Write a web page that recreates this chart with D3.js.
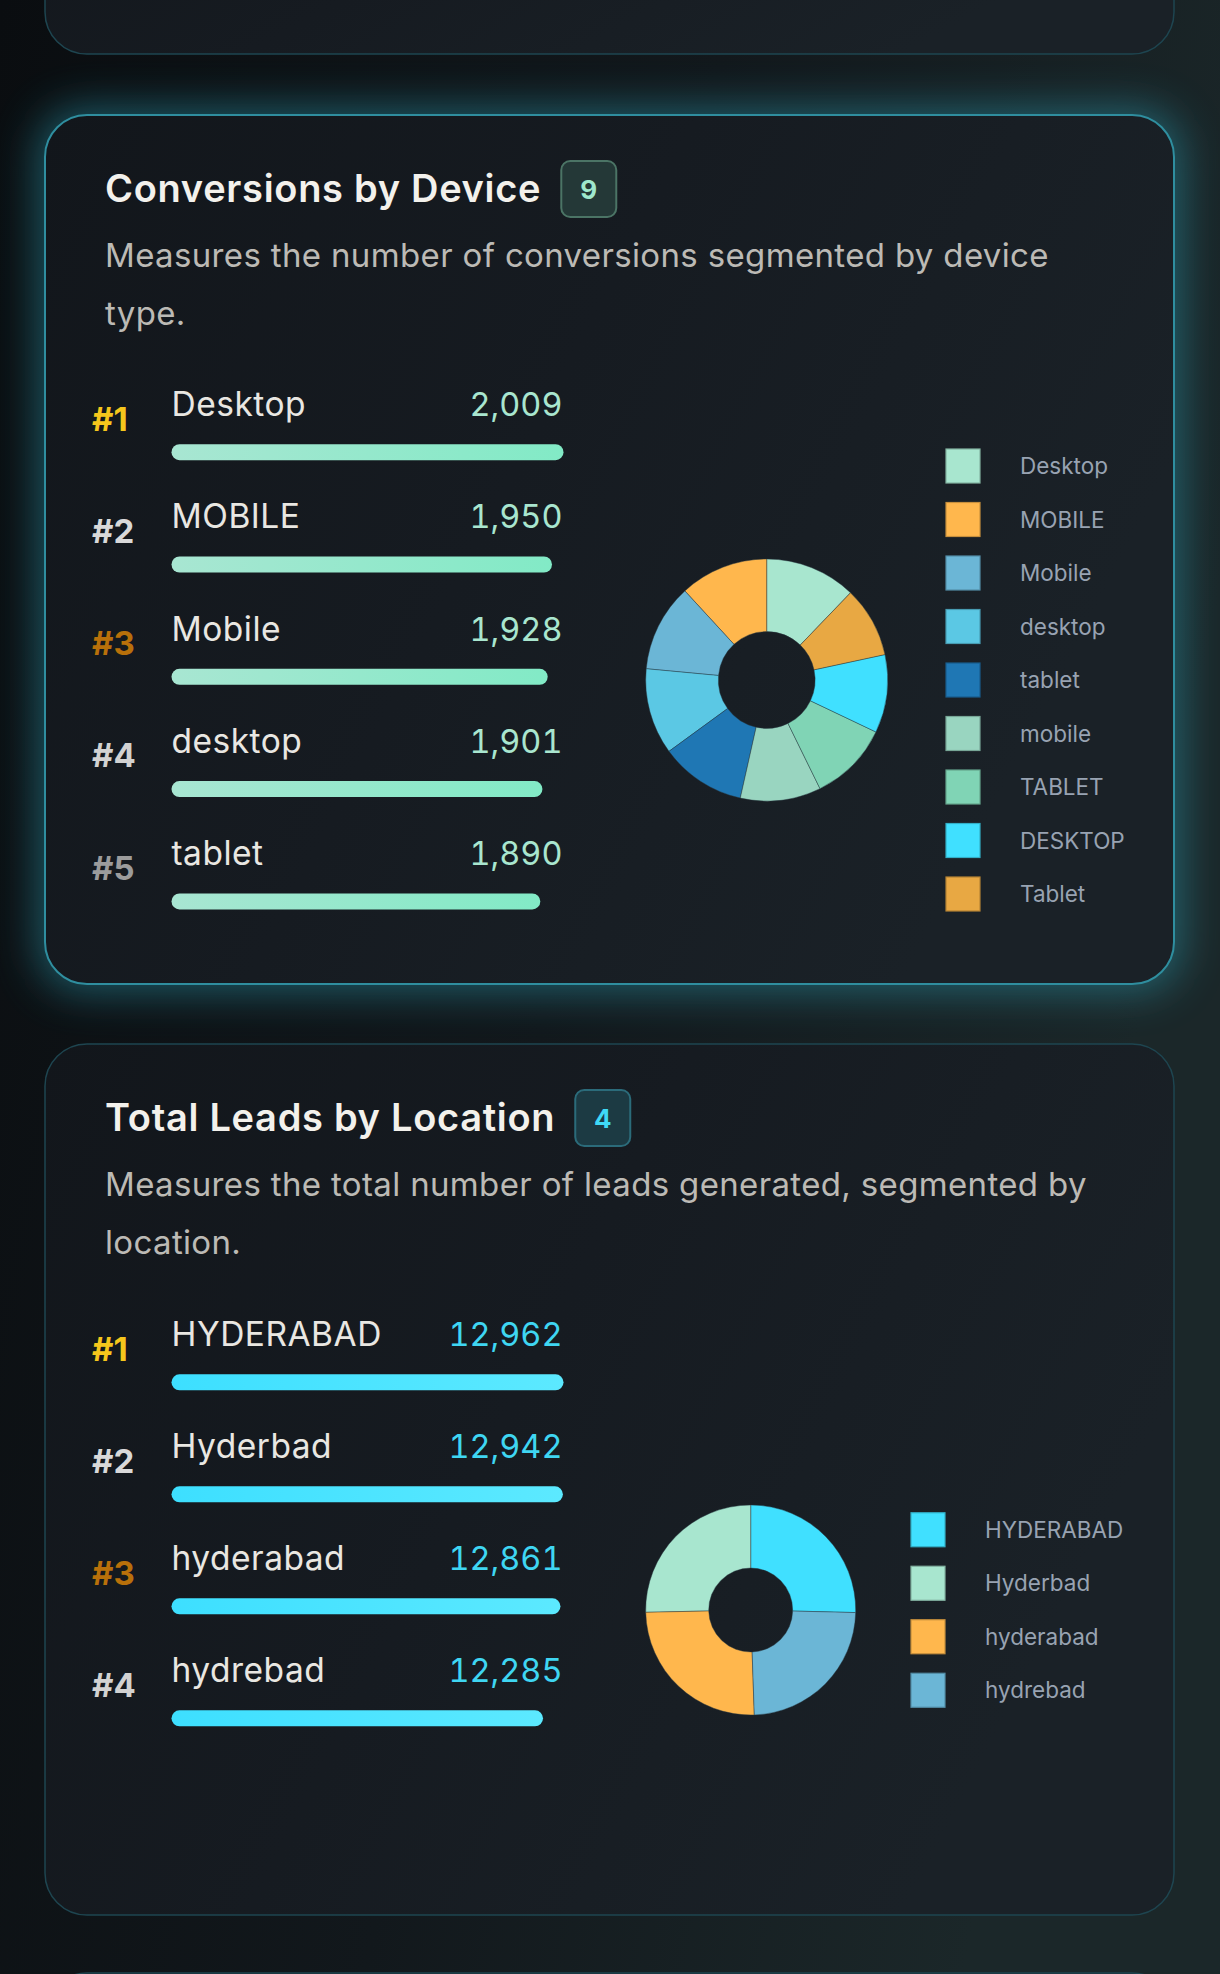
<!DOCTYPE html>
<html>
<head>
<meta charset="utf-8">
<script src="https://cdn.jsdelivr.net/npm/d3@7"></script>
<style>
html, body { margin: 0; padding: 0; background: #0d1114; }
svg { display: block; font-family: Inter, "Noto Sans", sans-serif; }
.num { font-variant-numeric: tabular-nums; }
</style>
</head>
<body>
<svg id="page"></svg>
<script>
// ---- data ----
var deviceLabels = ["Desktop", "MOBILE", "Mobile", "desktop", "tablet", "mobile", "TABLET", "DESKTOP", "Tablet"];
var deviceValues = [2009, 1950, 1928, 1901, 1890, 1775, 1760, 1722, 1558];

var locationLabels = ["HYDERABAD", "Hyderbad", "hyderabad", "hydrebad"];
var locationValues = [12962, 12942, 12861, 12285];

// palettes
var deviceColors = ["#a8e6cf", "#ffb74d", "#6bb6d6", "#5bc8e4", "#1f77b4", "#99d5c0", "#80d4b5", "#40e0ff", "#e8a843"];
var locationColors = ["#40e0ff", "#a8e6cf", "#ffb74d", "#6bb6d6"];
var rankColors = ["#f6c61c", "#d9d9d9", "#b8700a", "#d2d2d2", "#9c9c9c"];

var width = 1220, height = 1974;
var svg = d3.select("#page").attr("width", width).attr("height", height);
var defs = svg.append("defs");

// page background
var bg = defs.append("linearGradient").attr("id", "pageBg")
    .attr("x1", "0").attr("y1", "0").attr("x2", "1").attr("y2", "0.3");
bg.append("stop").attr("offset", "0").attr("stop-color", "#0a0d10");
bg.append("stop").attr("offset", "0.55").attr("stop-color", "#12181c");
bg.append("stop").attr("offset", "1").attr("stop-color", "#1b2729");
svg.append("rect").attr("width", width).attr("height", height).attr("fill", "url(#pageBg)");

var cardBg = defs.append("linearGradient").attr("id", "cardBg")
    .attr("x1", "0").attr("y1", "0").attr("x2", "1").attr("y2", "0.4");
cardBg.append("stop").attr("offset", "0").attr("stop-color", "#12161b");
cardBg.append("stop").attr("offset", "0.5").attr("stop-color", "#161b21");
cardBg.append("stop").attr("offset", "1").attr("stop-color", "#1a2127");

var glow = defs.append("filter").attr("id", "glow")
    .attr("x", "-20%").attr("y", "-20%").attr("width", "140%").attr("height", "140%");
glow.append("feGaussianBlur").attr("stdDeviation", 22);

function barGradient(id, c0, c1) {
  var g = defs.append("linearGradient").attr("id", id);
  g.append("stop").attr("offset", "0").attr("stop-color", c0);
  g.append("stop").attr("offset", "1").attr("stop-color", c1);
}
barGradient("barMint", "#a8e6d2", "#82eac6");
barGradient("barCyan", "#3ddfff", "#5ce9ff");

var cardX = 45, cardW = 1129, cardR = 42;

function cardFrame(top, bottom, lit) {
  if (lit) {
    svg.append("rect")
        .attr("x", cardX - 6).attr("y", top - 6)
        .attr("width", cardW + 12).attr("height", bottom - top + 12)
        .attr("rx", cardR).attr("fill", "#2a9cb0").attr("opacity", 0.55)
        .attr("filter", "url(#glow)");
  }
  svg.append("rect")
      .attr("x", cardX).attr("y", top)
      .attr("width", cardW).attr("height", bottom - top)
      .attr("rx", cardR)
      .attr("fill", "url(#cardBg)")
      .attr("stroke", lit ? "#2f8e9f" : "#1e4550")
      .attr("stroke-width", lit ? 2 : 1.5);
}

// neighbouring cards, only edges visible
cardFrame(-200, 54, false);
cardFrame(1973, 2300, false);

function drawCard(o) {
  var T = o.top;
  cardFrame(T, o.bottom, o.lit);
  var g = svg.append("g");

  // title + badge
  var title = g.append("text")
      .attr("x", 105).attr("y", T + 87)
      .attr("fill", "#f3f1ec").attr("font-size", 38).attr("font-weight", 600)
      .attr("letter-spacing", 0.7)
      .text(o.title);
  var tw = title.node().getComputedTextLength();
  var bx = 105 + tw + 20;
  g.append("rect")
      .attr("x", bx).attr("y", T + 46).attr("width", 55).attr("height", 56)
      .attr("rx", 9).attr("fill", o.badgeFill).attr("stroke", o.badgeStroke).attr("stroke-width", 2);
  g.append("text")
      .attr("x", bx + 27.5).attr("y", T + 84).attr("text-anchor", "middle")
      .attr("fill", o.accent).attr("font-size", 26).attr("font-weight", 700)
      .text(o.labels.length);

  // description
  g.selectAll(".desc").data(o.desc).enter().append("text")
      .attr("x", 105).attr("y", function (d, i) { return T + 152 + i * 58; })
      .attr("fill", "#bcbab5").attr("font-size", 33).attr("letter-spacing", 0.35)
      .text(function (d) { return d; });

  // ranked bars
  var n = Math.min(o.topN, o.labels.length);
  var rows = d3.range(n).map(function (i) { return {label: o.labels[i], value: o.values[i], i: i}; });
  var x = d3.scaleLinear().domain([0, d3.max(o.values)]).range([0, 392]);
  var y = function (i) { return T + o.rowStart + i * o.rowPitch; };

  var row = g.selectAll(".row").data(rows).enter().append("g");
  row.append("text")
      .attr("x", 92).attr("y", function (d) { return y(d.i) + 14.5; })
      .attr("fill", function (d) { return rankColors[d.i]; })
      .attr("font-size", 33).attr("font-weight", 700)
      .text(function (d) { return "#" + (d.i + 1); });
  row.append("text")
      .attr("x", 171.5).attr("y", function (d) { return y(d.i); })
      .attr("fill", "#e9e7e2").attr("font-size", 33.5).attr("letter-spacing", 0.5)
      .text(function (d) { return d.label; });
  row.append("text")
      .attr("class", "num")
      .attr("x", 562.5).attr("y", function (d) { return y(d.i); })
      .attr("text-anchor", "end")
      .attr("fill", o.valueColor).attr("font-size", 32.5)
      .text(function (d) { return d3.format(",")(d.value); });
  row.append("rect")
      .attr("x", 171.5).attr("y", function (d) { return y(d.i) + o.barGap; })
      .attr("width", function (d) { return x(d.value); })
      .attr("height", 16).attr("rx", 8)
      .attr("fill", o.barFill);

  // donut
  var total = d3.sum(o.values);
  var a0 = 2 * Math.PI * o.values[0] / total;
  var pie = d3.pie().sort(null).startAngle(a0).endAngle(a0 - 2 * Math.PI);
  var arc = d3.arc().innerRadius(o.r * 0.4).outerRadius(o.r);
  var cy = T + o.pieY;
  g.append("g")
      .attr("transform", "translate(" + o.pieX + "," + cy + ")")
      .selectAll("path").data(pie(o.values)).enter().append("path")
      .attr("d", arc)
      .attr("fill", function (d, i) { return o.colors[i]; })
      .attr("stroke", "rgba(40,55,65,0.55)").attr("stroke-width", 0.8);

  // legend
  var pitch = 53.5;
  var ly0 = cy - (o.labels.length - 1) * pitch / 2;
  var leg = g.selectAll(".leg").data(o.labels).enter().append("g")
      .attr("transform", function (d, i) { return "translate(" + o.legX + "," + (ly0 + i * pitch) + ")"; });
  leg.append("rect")
      .attr("x", 0).attr("y", -17).attr("width", 34).attr("height", 34)
      .attr("fill", function (d, i) { return o.colors[i]; })
      .attr("stroke", function (d, i) { return d3.color(o.colors[i]).darker(0.7); })
      .attr("stroke-width", 1.2);
  leg.append("text")
      .attr("x", 74).attr("y", 8)
      .attr("fill", "#98a3b2").attr("font-size", 22.5)
      .text(function (d) { return d; });
}

drawCard({
  top: 115, bottom: 984, lit: true,
  title: "Conversions by Device",
  desc: ["Measures the number of conversions segmented by device", "type."],
  labels: deviceLabels, values: deviceValues, colors: deviceColors, topN: 5,
  accent: "#9fe8cd", badgeFill: "#243837", badgeStroke: "#4b7465",
  valueColor: "#a9e6cf", barFill: "url(#barMint)",
  rowStart: 301, rowPitch: 112.3, barGap: 28.2,
  pieX: 766.7, pieY: 565, r: 121, legX: 946
});

drawCard({
  top: 1044, bottom: 1915, lit: false,
  title: "Total Leads by Location",
  desc: ["Measures the total number of leads generated, segmented by", "location."],
  labels: locationLabels, values: locationValues, colors: locationColors, topN: 4,
  accent: "#3fd9f6", badgeFill: "#1c3a43", badgeStroke: "#2b6b7a",
  valueColor: "#3fd6f2", barFill: "url(#barCyan)",
  rowStart: 302, rowPitch: 112, barGap: 28.3,
  pieX: 750.7, pieY: 566, r: 105, legX: 911
});
</script>
</body>
</html>
